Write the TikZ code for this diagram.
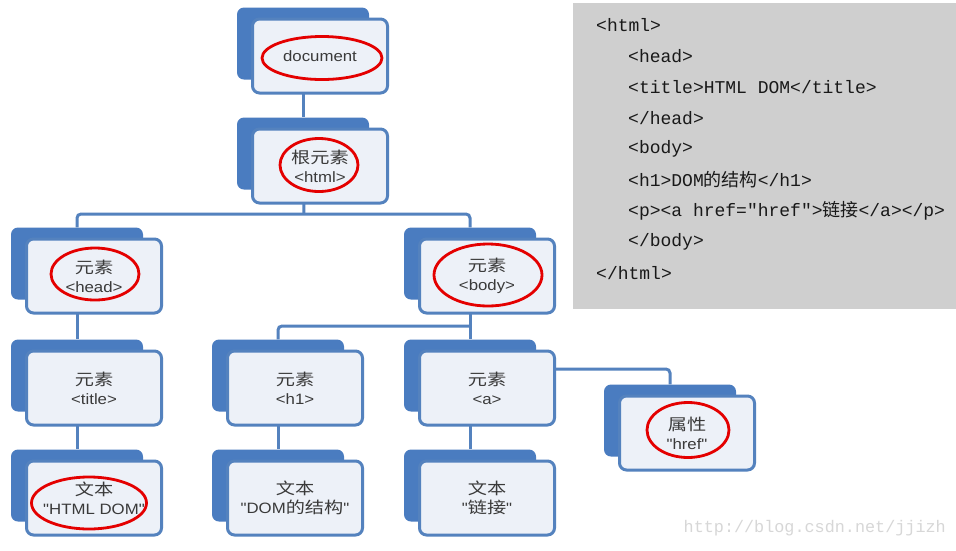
\documentclass[tikz,border=0pt]{standalone}
\usepackage{fontspec}
\usetikzlibrary{shapes.geometric}
\setmainfont{Liberation Sans}
\newfontfamily\cjk[FakeStretch=1.2]{Noto Sans CJK SC}
\newfontfamily\lat[FakeStretch=1.12]{Liberation Sans}
\newfontfamily\codefont{Liberation Mono}
\newfontfamily\codecjk{Noto Sans CJK SC}
\definecolor{boxblue}{RGB}{84,130,190}
\definecolor{backblue}{RGB}{74,124,192}
\definecolor{frontfill}{RGB}{237,241,248}
\definecolor{ringred}{RGB}{228,0,0}
\definecolor{codegray}{RGB}{207,207,207}
\definecolor{txt}{RGB}{58,58,58}
\definecolor{codetxt}{RGB}{25,25,25}
\definecolor{wm}{RGB}{215,215,215}
\pgfdeclarelayer{paper}
\pgfdeclarelayer{bg}
\pgfsetlayers{paper,bg,main}
\newcommand\zh[1]{{\cjk\fontsize{16}{19}\selectfont #1}}
\newcommand\czh[1]{{\codecjk #1}}
\newcommand\treebox[4]{%
  \node[backbox] (#1) at (#2-17,#3-12.5) {};
  \node[frontbox] (#1-f) at (#2,#3) {#4};
}
\tikzset{
  backbox/.style={rectangle, fill=backblue, draw=none, minimum width=132,
    minimum height=72, rounded corners=7, inner sep=0},
  frontbox/.style={rectangle, fill=frontfill, draw=boxblue, line width=3,
    minimum width=135, minimum height=74, rounded corners=7, inner sep=0,
    align=center, text=txt, font=\lat\fontsize{15}{19}\selectfont},
  ring/.style={ellipse, draw=ringred, line width=2.8, inner sep=0},
  conn/.style={draw=boxblue, line width=3, rounded corners=4},
  codeline/.style={anchor=west, inner sep=0, text=codetxt,
    font=\codefont\fontsize{18}{20}\selectfont},
}
\begin{document}
\begin{tikzpicture}[x=1pt, y=-1pt]
\useasboundingbox (0,0) rectangle (956,550);
\begin{pgfonlayer}{paper}
\fill[white] (0,0) rectangle (956,550);
\end{pgfonlayer}

% code box
\node[fill=codegray, anchor=north west, minimum width=383, minimum height=306, inner sep=0] (code) at (573,3) {};
\node[codeline] (c1) at (596,25) {<html>};
\node[codeline] (c2) at (628,56) {<head>};
\node[codeline] (c3) at (628,87) {<title>HTML DOM</title>};
\node[codeline] (c4) at (628,118) {</head>};
\node[codeline] (c5) at (628,149) {<body>};
\node[codeline] (c6) at (628,180) {<h1>DOM\czh{的结构}</h1>};
\node[codeline] (c7) at (628,211) {<p><a href="href">\czh{链接}</a></p>};
\node[codeline] (c8) at (628,242) {</body>};
\node[codeline] (c9) at (596,273) {</html>};

% tree boxes
\treebox{doc}{320}{56}{document}
\treebox{root}{320}{166}{\zh{根元素}\\<html>}
\treebox{head}{94}{276}{\zh{元素}\\<head>}
\treebox{body}{487}{276}{\zh{元素}\\<body>}
\treebox{title}{94}{388}{\zh{元素}\\<title>}
\treebox{h1}{295}{388}{\zh{元素}\\<h1>}
\treebox{a}{487}{388}{\zh{元素}\\<a>}
\treebox{attr}{687}{433}{\zh{属性}\\"href"}
\treebox{text1}{94}{498}{\zh{文本}\\"HTML DOM"}
\treebox{text2}{295}{498}{\zh{文本}\\"DOM\zh{的结构}"}
\treebox{text3}{487}{498}{\zh{文本}\\"\zh{链接}"}

% red rings
\node[ring, minimum width=120, minimum height=43] (docring) at (322,58) {};
\node[ring, minimum width=78, minimum height=53] (rootring) at (319,165) {};
\node[ring, minimum width=88, minimum height=52] (headring) at (95,274) {};
\node[ring, minimum width=108, minimum height=62] (bodyring) at (488,275) {};
\node[ring, minimum width=82, minimum height=55] (attrring) at (688,430) {};
\node[ring, minimum width=115, minimum height=52] (text1ring) at (89,503) {};

% junctions
\coordinate (j1) at (304,214);
\coordinate (j2) at (470,326);
\coordinate (j3) at (600,369);

% connectors
\begin{pgfonlayer}{bg}
\draw[conn] (doc) -- (root);
\draw[conn] (root) -- (j1);
\draw[conn] (head) |- (j1) -| (body);
\draw[conn] (head) -- (title);
\draw[conn] (title) -- (text1);
\draw[conn] (body) -- (a);
\draw[conn] (h1) |- (j2);
\draw[conn] (h1) -- (text2);
\draw[conn] (a) -- (text3);
\draw[conn] (a-f.center |- j3) -| (attr);
\end{pgfonlayer}

% watermark
\node[anchor=east, inner sep=0, text=wm, font=\codefont\fontsize{16.8}{18}\selectfont] (wmk) at (946,528) {http://blog.csdn.net/jjizh};
\end{tikzpicture}
\end{document}
